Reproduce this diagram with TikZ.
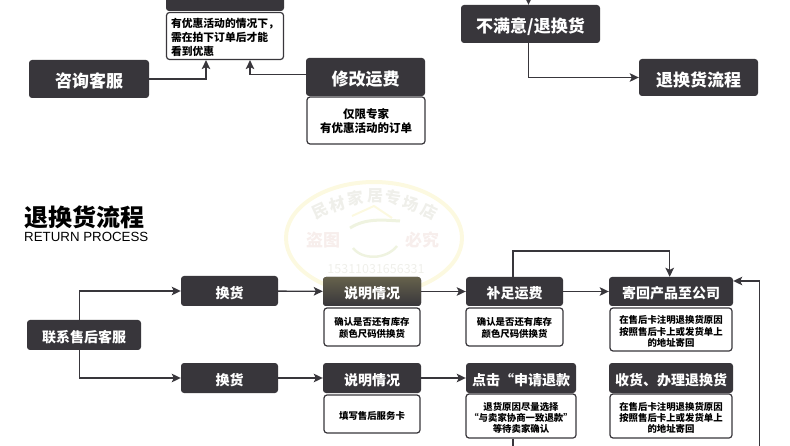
\documentclass[tikz,border=0pt]{standalone}
\usepackage{fontspec}
\setmainfont{Noto Sans CJK SC}
\newfontfamily\latinsans{Liberation Sans}
\usetikzlibrary{arrows.meta}
\definecolor{boxdark}{HTML}{38363B}
\definecolor{wmyellow}{HTML}{FCF9E0}
\definecolor{wmgrey}{HTML}{EFEFEA}
\definecolor{wmpink}{HTML}{F7EEEC}
\definecolor{wmgreen}{HTML}{EFF3E0}
\definecolor{wmolive}{HTML}{66624C}
\tikzset{
  darkbox/.style={draw=none,fill=boxdark,rounded corners=3pt,text=white,font=\bfseries,inner sep=0pt,align=center},
  notebox/.style={draw=boxdark,line width=1.2pt,fill=white,rounded corners=3pt,text=black,inner sep=0pt,align=center},
  link/.style={draw=boxdark,line width=1.4pt,-{Stealth[length=9pt,width=8.5pt,inset=2pt]}},
  plainlink/.style={draw=boxdark,line width=1.4pt},
  wmchar/.style={text=wmgrey,font=\bfseries\fontsize{16}{16}\selectfont,inner sep=0pt},
}
\newcommand{\placebox}[8][2pt]{% [drop], style, name, x0, y0, x1, y1, text
  \node[#2,minimum width={(#6-#4)*1pt},minimum height={(#7-#5)*1pt}] (#3) at ({(#4+#6)/2},{(#5+#7)/2}) {\raisebox{-#1}[\height][\depth]{\vbox{\let\\\cr\halign{\hfil##\hfil\cr#8\crcr}}}};}
\begin{document}
\begin{tikzpicture}[x=1pt,y=-1pt]
\useasboundingbox (0,0) rectangle (790,446);
% watermark
\draw[wmyellow,line width=4pt] (374,238) ellipse[x radius=88,y radius=56];
\foreach \ch/\xx/\yy/\rr in {民/320/211/25,材/338/204/16,家/356/198/8,居/375/196/0,专/393/198/-8,场/411/204/-16,店/429/211/-25}
  \node[wmchar,rotate=\rr] (wmc\xx) at (\xx,\yy) {\ch};
\node[text=wmpink,font=\bfseries\fontsize{17}{17}\selectfont,inner sep=0pt] (wm2) at (323,240) {盗图};
\node[text=wmpink,font=\bfseries\fontsize{17}{17}\selectfont,inner sep=0pt] (wm3) at (422,240) {必究};
\node[text=wmgrey,font=\fontsize{12.5}{12.5}\selectfont,inner sep=0pt] (wm4) at (376,269) {15311031656331};
\draw[wmyellow,line width=2pt] (352,216) -- (374,206) -- (392,218);
\draw[wmgreen,line width=3pt] (350,228) .. controls (366,218) and (382,220) .. (400,221);
\draw[wmgreen,line width=2.5pt] (353,248) .. controls (362,260) and (386,260) .. (397,246);
% upper part
\placebox{darkbox}{topdark}{166}{-30}{284}{11}{}
\placebox[1.5pt]{notebox,font=\bfseries\fontsize{10.8}{13.6}\selectfont}{topnote}{166.5}{12.5}{283.5}{59.5}{\makebox[108pt][l]{有优惠活动的情况下，}\\\makebox[108pt][l]{需在拍下订单后才能}\\\makebox[108pt][l]{看到优惠}}
\placebox[2.3pt]{darkbox,font=\bfseries\fontsize{17}{17}\selectfont}{consult}{29}{60}{149}{98}{咨询客服}
\placebox[2.3pt]{darkbox,font=\bfseries\fontsize{17}{17}\selectfont}{freight}{306}{58}{425}{96}{修改运费}
\placebox[0.5pt]{notebox,font=\bfseries\fontsize{11.5}{14.5}\selectfont}{freightnote}{307}{97}{425}{144}{仅限专家\\有优惠活动的订单}
\placebox[3pt]{darkbox,font=\bfseries\fontsize{17}{17}\selectfont}{unhappy}{461}{5}{600}{43}{不满意/退换货}
\placebox{darkbox,font=\bfseries\fontsize{17}{17}\selectfont}{returnflow}{639}{59}{758}{96}{退换货流程}
\coordinate (intop) at (528.5,-4);
\draw[link] (consult.east) -| ([xshift=-19pt]topnote.south);
\draw[link] ([yshift=2.5pt]freight.west) -| ([xshift=25pt]topnote.south);
\draw[link] (intop) -- ([xshift=-2pt]unhappy.north);
\draw[link] ([xshift=-2pt]unhappy.south) |- (returnflow.west);
% title
\node[anchor=west,inner sep=0pt,font=\bfseries\fontsize{24}{24}\selectfont] (title) at (24,217) {退换货流程};
\node[anchor=west,inner sep=0pt,font=\latinsans\fontsize{13.3}{14}\selectfont] (subtitle) at (24,237) {RETURN PROCESS};
% lower part
\tikzset{rowbox/.style={darkbox,font=\bfseries\fontsize{14}{14}\selectfont},
  smallnote/.style={notebox,font=\bfseries\fontsize{9.4}{11.2}\selectfont}}
\placebox{rowbox}{contact}{27}{320}{141}{350}{联系售后客服}
\placebox{rowbox}{swapA}{181}{276}{278}{306}{换货}
\placebox{rowbox}{swapB}{181}{363}{278}{393}{换货}
\placebox{rowbox,top color=wmolive,middle color=boxdark,bottom color=boxdark}{explA}{323}{277}{421}{306}{说明情况}
\placebox[1pt]{smallnote}{explAnote}{324}{308}{420}{346}{确认是否还有库存\\颜色尺码供换货}
\placebox{rowbox}{explB}{323}{363}{421}{393}{说明情况}
\placebox[1.5pt]{smallnote}{explBnote}{324}{395}{420}{433}{填写售后服务卡}
\placebox{rowbox}{topay}{466}{277}{563}{306}{补足运费}
\placebox[1pt]{smallnote}{topaynote}{466}{308}{563}{346}{确认是否还有库存\\颜色尺码供换货}
\placebox{rowbox}{sendback}{609}{277}{733}{306}{寄回产品至公司}
\placebox[2pt]{smallnote}{sendnote}{610}{308}{732}{351}{在售后卡注明退换货原因\\按照售后卡上或发货单上\\的地址寄回}
\placebox{rowbox}{apply}{466}{363}{576}{393}{点击“申请退款}
\placebox[2pt]{smallnote}{applynote}{466}{394}{576}{438}{退货原因尽量选择\\“与卖家协商一致退款”\\等待卖家确认}
\placebox{rowbox}{receive}{609}{363}{733}{393}{收货、办理退换货}
\placebox[2pt]{smallnote}{receivenote}{610}{394}{732}{438}{在售后卡注明退换货原因\\按照售后卡上或发货单上\\的地址寄回}
\coordinate (applyout) at (513,448);
\coordinate (rightin) at (759.5,448);
\coordinate (looptop) at (669.7,251);
\draw[link] ([xshift=-4.5pt]contact.north) |- (swapA.west);
\draw[link] ([xshift=-4.5pt]contact.south) |- (swapB.west);
\draw[link] (swapA) -- (explA);
\draw[link] (swapB) -- (explB);
\draw[link] (explA) -- (topay);
\draw[link] (explB) -- (apply);
\draw[link] (topay) -- (sendback);
\draw[link] ([xshift=-1.5pt]topay.north) |- (looptop) -- ([xshift=-1.3pt]sendback.north);
\draw[plainlink] (applynote.south -| applyout) -- (applyout);
\draw[link] (rightin) |- ([yshift=10.5pt]sendback.east);
\end{tikzpicture}
\end{document}
